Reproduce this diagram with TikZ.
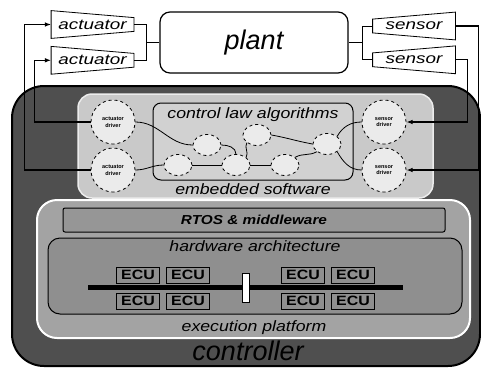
\documentclass[tikz,border=0pt]{standalone}
\usepackage{fontspec}
\setmainfont{Liberation Sans}
\newfontfamily\wide[FakeStretch=1.18]{Liberation Sans}
\newfontfamily\wider[FakeStretch=1.3]{Liberation Sans}
\usetikzlibrary{shapes.geometric,arrows.meta,positioning}
\definecolor{ctrlgray}{gray}{0.31}
\definecolor{swgray}{gray}{0.79}
\definecolor{algray}{gray}{0.82}
\definecolor{platgray}{gray}{0.64}
\definecolor{hwgray}{gray}{0.56}
\definecolor{bubble}{gray}{0.92}

\begin{document}
\begin{tikzpicture}[x=1pt, y=-1pt, line width=0.8pt,
 lbl/.style={font=\wide\itshape\fontsize{15}{17}\selectfont, inner sep=0pt},
 trap/.style={minimum width=82pt, minimum height=27pt, inner sep=0pt, font=\wider\itshape\fontsize{14.5}{15}\selectfont},
 drv/.style={circle, draw, dashed, fill=bubble, minimum size=44pt, inner sep=0pt, align=center, font=\bfseries\fontsize{5.5}{6.5}\selectfont},
 task/.style={ellipse, draw, dashed, fill=bubble, minimum width=28pt, minimum height=21pt, inner sep=0pt},
 ecu/.style={draw, line width=1pt, minimum width=43pt, minimum height=16pt, inner sep=0pt, font=\wide\bfseries\fontsize{13.5}{14}\selectfont},
 >={Latex[length=2.2mm]}]
\useasboundingbox (0,0) rectangle (481,367);

% controller body
\draw[line width=2pt, fill=ctrlgray, rounded corners=32pt] (12,86) rectangle (480,366);
\node[font=\itshape\fontsize{27}{30}\selectfont, anchor=base, inner sep=0pt] (ctrl) at (248,360) {controller};

% embedded software
\draw[white!85!gray, line width=1.5pt, fill=swgray, rounded corners=14pt] (78,94) rectangle (433,198);
\node[draw, line width=1pt, rounded corners=8pt, fill=algray, minimum width=200pt, minimum height=77pt] (claw) at (253,141.5) {};
\node[lbl] (clawlbl) at (253,115) {control law algorithms};
\node[lbl] (swlbl) at (253,189) {embedded software};

\node[task] (e1) at (207,145) {};
\node[task] (e2) at (178,165) {};
\node[task] (e3) at (236,165) {};
\node[task] (e4) at (257,135) {};
\node[task] (e5) at (285,165) {};
\node[task] (e6) at (327,144) {};

\node[drv] (ad1) at (113,122) {actuator\\driver};
\node[drv] (ad2) at (113,170) {actuator\\driver};
\node[drv] (sd1) at (384,122) {sensor\\driver};
\node[drv] (sd2) at (384,170) {sensor\\driver};

\draw (ad1.east) to[out=0,in=180] (e1.west);
\draw (ad2.east) to[out=0,in=180] (e2.west);
\draw (e1.east) to[out=0,in=90] (e3.north);
\draw (e2.east) -- (e3.west);
\draw (e3.north east) to[out=60,in=-120] (e4.south west);
\draw (e3.east) -- (e5.west);
\draw (e4.east) to[out=-10,in=170] (e6.west);
\draw (e5.north east) to[out=30,in=-150] (e6.south west);
\draw (e6.north east) to[out=60,in=180] (sd1.west);
\draw (e6.south east) to[out=-60,in=180] (sd2.west);

% execution platform
\draw[white, line width=2pt, fill=platgray, rounded corners=20pt] (37,200) rectangle (470,338);
\node[draw, line width=1pt, rounded corners=2pt, fill=platgray!92!black, minimum width=382pt, minimum height=24pt,
 font=\wide\bfseries\itshape\fontsize{13}{14}\selectfont] (rtos) at (254,220) {RTOS \& middleware};
\node[draw, line width=1pt, rounded corners=12pt, fill=hwgray, minimum width=414pt, minimum height=76pt] (hw) at (255,276) {};
\node[lbl] (hwlbl) at (255,246) {hardware architecture};
\node[lbl] (execlbl) at (254,328) {execution platform};

\coordinate (busL) at (88,287);
\coordinate (busR) at (403,287);
\draw[line width=5pt] (busL) -- (busR);
\foreach \x [count=\i] in {138,188,303,353} {
  \node[ecu] (top\i) at (\x,275) {ECU};
  \node[ecu] (bot\i) at (\x,301) {ECU};
}
\node[draw, line width=1pt, fill=white, minimum width=7pt, minimum height=29pt, inner sep=0pt] (gw) at (245.5,287.5) {};

% plant with actuators and sensors
\node[draw, line width=1.2pt, rounded corners=10pt, fill=white, minimum width=188pt, minimum height=61pt,
 font=\itshape\fontsize{27}{30}\selectfont] (plant) at (254,42.5) {plant};
\node[trap] (act1) at (92.5,24.5) {actuator};
\node[trap, below=8pt of act1] (act2) {actuator};
\node[trap] (sens1) at (414,26) {sensor};
\node[trap, below=6pt of sens1] (sens2) {sensor};
\foreach \n in {act1,act2}
  \draw (\n.north west) -- ([yshift=-7pt]\n.north east) -- ([yshift=7pt]\n.south east) -- (\n.south west) -- cycle;
\foreach \n in {sens1,sens2}
  \draw (\n.north east) -- ([yshift=-7pt]\n.north west) -- ([yshift=7pt]\n.south west) -- (\n.south east) -- cycle;

\coordinate (aj) at ([xshift=-13pt]plant.west);
\coordinate (sj) at ([xshift=14pt]plant.east);
\draw (act1.east) -| (aj) |- (act2.east);
\draw (aj) -- (plant.west);
\draw (sens1.west) -| (sj) |- (sens2.west);
\draw (sj) -- (plant.east);

% feedback loops
\draw[->, line width=1.2pt] (ad2.west) -| ([xshift=-27pt]act1.west) -- (act1.west);
\draw[->, line width=1.2pt] (ad1.west) -| ([xshift=-17pt]act2.west) -- (act2.west);
\draw[->, line width=1.2pt] (sens1.east) -| ([xshift=72pt]sd2.east) -- (sd2.east);
\draw[->, line width=1.2pt] (sens2.east) -| ([xshift=61pt]sd1.east) -- (sd1.east);
\end{tikzpicture}
\end{document}
